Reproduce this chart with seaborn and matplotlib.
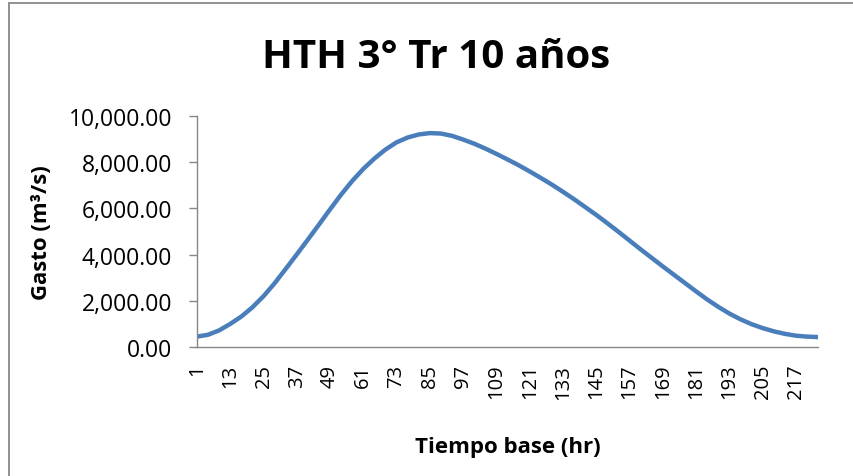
import matplotlib
matplotlib.use("Agg")
import matplotlib.pyplot as plt
import seaborn as sns
import pandas as pd
from matplotlib.lines import Line2D
from matplotlib.ticker import FuncFormatter

# Data (hour, discharge m3/s)
hours = [1, 5, 9, 13, 17, 21, 25, 29, 33, 37, 41, 45, 49, 53, 57, 61, 65, 69, 73, 77,
         81, 85, 89, 93, 97, 101, 105, 109, 113, 117, 121, 125, 129, 133, 137, 141, 145,
         149, 153, 157, 161, 165, 169, 173, 177, 181, 185, 189, 193, 197, 201, 205, 209,
         213, 217, 221, 225]
gasto = [450, 530, 720, 1000, 1320, 1720, 2200, 2760, 3380, 4010, 4650, 5300, 5960, 6600,
         7190, 7710, 8160, 8550, 8860, 9070, 9200, 9260, 9240, 9140, 8980, 8800, 8590,
         8360, 8120, 7870, 7600, 7320, 7030, 6720, 6400, 6060, 5720, 5360, 4990, 4610,
         4230, 3860, 3490, 3130, 2770, 2410, 2060, 1740, 1450, 1200, 990, 820, 680, 570,
         490, 450, 430]
x_ticks = list(range(1, 218, 12))
y_ticks = [0, 2000, 4000, 6000, 8000, 10000]

title = "HTH 3° Tr 10 años"
xlabel = "Tiempo base (hr)"
ylabel = "Gasto (m³/s)"

sns.set_style("white")
plt.rcParams['font.family'] = ['Open Sans', 'DejaVu Sans']
plt.rcParams['text.color'] = 'black'
plt.rcParams['axes.labelcolor'] = 'black'
plt.rcParams['xtick.color'] = 'black'
plt.rcParams['ytick.color'] = 'black'

df = pd.DataFrame({"hr": hours, "q": gasto})

fig = plt.figure(figsize=(8.54, 4.77), dpi=100)
ax = fig.add_axes([197/854, 1 - 348/477, (818 - 197)/854, (348 - 117)/477])

sns.lineplot(data=df, x="hr", y="q", ax=ax, color="#4A7EBB", linewidth=3.2)

ax.set_xlim(1, 225)
ax.set_ylim(0, 10000)
ax.set_xticks(x_ticks)
ax.set_xticklabels([str(t) for t in x_ticks], rotation=90, fontsize=14.5)
ax.set_yticks(y_ticks)
ax.yaxis.set_major_formatter(FuncFormatter(lambda v, p: f"{v:,.2f}"))
ax.tick_params(axis='y', labelsize=16.5, length=6, width=1, color="#868686",
               labelcolor='black', direction='out', left=True, pad=12)
ax.tick_params(axis='x', length=0, pad=12, labelcolor='black')

for s in ["top", "right"]:
    ax.spines[s].set_visible(False)
for s in ["left", "bottom"]:
    ax.spines[s].set_color("#868686")
    ax.spines[s].set_linewidth(1.0)

ax.set_xlabel(xlabel, fontsize=16, fontweight='bold', va='center')
ax.set_ylabel(ylabel, fontsize=16, fontweight='bold', va='center')
ax.xaxis.set_label_coords(0.5, -(448 - 348) / 231)
ax.yaxis.set_label_coords((42 - 197) / 621, 0.5)

fig.text(436/854, 1 - 57/477, title, ha='center', va='center',
         fontsize=29, fontweight='bold')

# chart frame (left and top edges visible)
bc = "#888888"
fig.add_artist(Line2D([8.5/854, 8.5/854], [0, 1 - 4/477], transform=fig.transFigure,
                      color=bc, linewidth=1.3))
fig.add_artist(Line2D([8.5/854, 1], [1 - 4/477, 1 - 4/477], transform=fig.transFigure,
                      color=bc, linewidth=1.3))

fig.savefig("out.png", dpi=100)
